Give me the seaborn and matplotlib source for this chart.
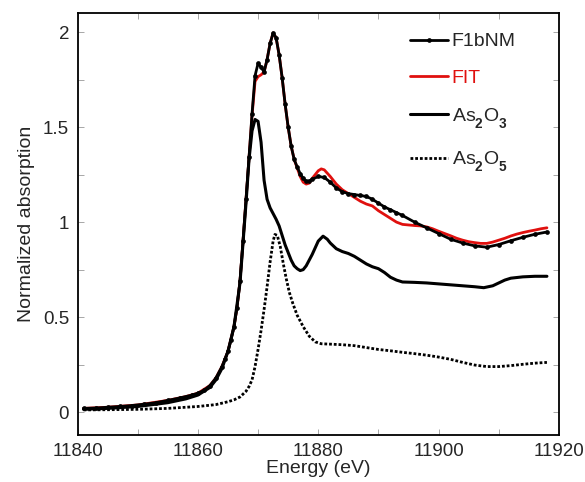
import matplotlib
matplotlib.use("Agg")
import matplotlib.pyplot as plt
import matplotlib._mathtext as mathtext_internal
import seaborn as sns
from matplotlib.ticker import MultipleLocator, FuncFormatter

# F1bNM sample (black line with dots)
e_sample = [11841, 11843, 11845, 11847, 11849, 11851, 11853, 11855, 11857, 11859,
            11860, 11861, 11862, 11863, 11864, 11864.5, 11865, 11865.5, 11866, 11866.5,
            11867, 11867.5, 11868, 11868.5, 11869, 11869.5, 11870, 11870.5, 11871, 11871.5,
            11872, 11872.5, 11873, 11873.5, 11874, 11874.5, 11875, 11875.5, 11876, 11876.5,
            11877, 11877.5, 11878, 11878.5, 11879, 11880, 11881, 11882, 11883, 11884,
            11885, 11886, 11887, 11888, 11889, 11890, 11891, 11892, 11893, 11894,
            11896, 11898, 11900, 11902, 11904, 11906, 11908, 11910, 11912, 11914,
            11916, 11918]
mu_sample = [0.02, 0.022, 0.026, 0.03, 0.035, 0.042, 0.05, 0.062, 0.075, 0.09,
             0.10, 0.115, 0.14, 0.18, 0.24, 0.28, 0.32, 0.38, 0.45, 0.55,
             0.69, 0.90, 1.12, 1.34, 1.57, 1.77, 1.835, 1.815, 1.79, 1.855,
             1.94, 1.995, 1.97, 1.88, 1.76, 1.62, 1.50, 1.40, 1.33, 1.29,
             1.255, 1.23, 1.215, 1.215, 1.225, 1.24, 1.235, 1.21, 1.18, 1.16,
             1.15, 1.145, 1.14, 1.135, 1.12, 1.10, 1.08, 1.065, 1.05, 1.035,
             1.00, 0.97, 0.94, 0.91, 0.89, 0.875, 0.868, 0.882, 0.902, 0.92,
             0.936, 0.948]

# linear combination fit (red)
e_fit = [11841, 11845, 11850, 11855, 11858, 11860, 11862, 11863, 11864, 11865,
         11866, 11866.5, 11867, 11867.5, 11868, 11868.5, 11869, 11869.5, 11870, 11870.5,
         11871, 11871.5, 11872, 11872.5, 11873, 11873.5, 11874, 11874.5, 11875, 11875.5,
         11876, 11876.5, 11877, 11877.5, 11878, 11878.5, 11879, 11880, 11880.5, 11881,
         11882, 11883, 11884, 11885, 11886, 11887, 11888, 11889, 11890, 11891,
         11892, 11893, 11894, 11895, 11896, 11897, 11898, 11899, 11900, 11901,
         11902, 11903, 11904, 11905, 11906, 11907, 11908, 11909, 11910, 11911,
         11912, 11913, 11914, 11915, 11916, 11917, 11918]
mu_fit = [0.02, 0.026, 0.038, 0.062, 0.082, 0.10, 0.14, 0.18, 0.24, 0.32,
          0.45, 0.55, 0.69, 0.90, 1.12, 1.34, 1.56, 1.74, 1.765, 1.775,
          1.79, 1.855, 1.94, 1.995, 1.97, 1.88, 1.76, 1.62, 1.50, 1.40,
          1.33, 1.285, 1.24, 1.21, 1.20, 1.205, 1.23, 1.27, 1.28, 1.275,
          1.24, 1.20, 1.17, 1.15, 1.13, 1.11, 1.095, 1.085, 1.06, 1.04,
          1.02, 1.00, 0.988, 0.985, 0.982, 0.98, 0.975, 0.965, 0.952, 0.94,
          0.928, 0.915, 0.905, 0.897, 0.892, 0.888, 0.888, 0.895, 0.905, 0.915,
          0.927, 0.937, 0.945, 0.952, 0.958, 0.965, 0.97]

# As2O3 reference (solid black)
e_as2o3 = [11841, 11845, 11850, 11855, 11858, 11860, 11862, 11863, 11864, 11865,
           11866, 11867, 11868, 11868.5, 11869, 11869.5, 11870, 11870.5, 11871, 11871.5,
           11872, 11872.5, 11873, 11873.5, 11874, 11874.5, 11875, 11875.5, 11876, 11876.5,
           11877, 11877.5, 11878, 11879, 11880, 11880.8, 11881.5, 11882, 11883, 11884,
           11885, 11886, 11887, 11888, 11889, 11890, 11891, 11892, 11893, 11894,
           11896, 11898, 11900, 11902, 11904, 11906, 11907.5, 11909, 11910, 11911,
           11912, 11914, 11916, 11918]
mu_as2o3 = [0.015, 0.02, 0.03, 0.05, 0.07, 0.09, 0.13, 0.17, 0.23, 0.32,
            0.45, 0.68, 1.10, 1.33, 1.48, 1.54, 1.53, 1.42, 1.22, 1.12,
            1.075, 1.045, 1.015, 0.98, 0.93, 0.88, 0.84, 0.80, 0.77, 0.755,
            0.745, 0.75, 0.77, 0.83, 0.90, 0.926, 0.91, 0.89, 0.86, 0.845,
            0.835, 0.82, 0.80, 0.78, 0.765, 0.755, 0.735, 0.71, 0.695, 0.685,
            0.683, 0.68, 0.675, 0.67, 0.665, 0.66, 0.655, 0.665, 0.68, 0.695,
            0.705, 0.712, 0.715, 0.715]

# As2O5 reference (dotted)
e_as2o5 = [11841, 11845, 11850, 11855, 11860, 11863, 11865, 11866, 11867, 11867.5,
           11868, 11868.5, 11869, 11869.5, 11870, 11870.5, 11871, 11871.5, 11872, 11872.5,
           11872.8, 11873.2, 11873.7, 11874.2, 11874.7, 11875.2, 11875.8, 11876.5, 11877.5, 11878.5,
           11879.5, 11880.5, 11882, 11884, 11886, 11888, 11890, 11892, 11894, 11896,
           11898, 11900, 11902, 11904, 11906, 11908, 11910, 11912, 11914, 11916,
           11918]
mu_as2o5 = [0.012, 0.013, 0.015, 0.02, 0.03, 0.04, 0.055, 0.065, 0.08, 0.095,
            0.11, 0.135, 0.17, 0.24, 0.33, 0.43, 0.54, 0.66, 0.79, 0.90,
            0.935, 0.93, 0.87, 0.78, 0.70, 0.63, 0.57, 0.51, 0.45, 0.40,
            0.37, 0.36, 0.358, 0.355, 0.35, 0.34, 0.33, 0.323, 0.315, 0.308,
            0.30, 0.29, 0.278, 0.262, 0.248, 0.24, 0.24, 0.245, 0.252, 0.258,
            0.262]

sns.set_style("ticks")
plt.rcParams['font.family'] = ['Liberation Sans', 'DejaVu Sans']
plt.rcParams['mathtext.fontset'] = 'custom'
plt.rcParams['mathtext.rm'] = 'Liberation Sans'
plt.rcParams['mathtext.it'] = 'Liberation Sans'
plt.rcParams['mathtext.bf'] = 'Liberation Sans:bold'
# drop the subscripts a bit lower, like in the original figure
mathtext_internal.FontConstantsBase.sub1 = 0.75

fig = plt.figure(figsize=(5.85, 4.82), dpi=100)
ax = fig.add_axes([0.1325, 0.0975, 0.823, 0.8755])

red = '#e0100e'
sns.lineplot(x=e_fit, y=mu_fit, ax=ax, color=red, lw=2, sort=False,
             label='FIT', zorder=2)
sns.lineplot(x=e_sample, y=mu_sample, ax=ax, color='black', lw=2, sort=False,
             marker='o', markersize=3.4, markeredgewidth=0, label='F1bNM', zorder=3)
sns.lineplot(x=e_as2o3, y=mu_as2o3, ax=ax, color='black', lw=2.2, sort=False,
             label='As$_\\mathbf{2}$O$_\\mathbf{3}$', zorder=3)
sns.lineplot(x=e_as2o5, y=mu_as2o5, ax=ax, color='black', lw=2, sort=False,
             linestyle=(0, (1, 0.7)), label='As$_\\mathbf{2}$O$_\\mathbf{5}$', zorder=3)

ax.set_xlim(11840, 11920)
ax.set_ylim(-0.12, 2.1)
ax.xaxis.set_major_locator(MultipleLocator(20))
ax.xaxis.set_minor_locator(MultipleLocator(10))
ax.yaxis.set_major_locator(MultipleLocator(0.5))
ax.yaxis.set_minor_locator(MultipleLocator(0.25))
ax.yaxis.set_major_formatter(FuncFormatter(lambda v, p: '{:g}'.format(v)))
ax.tick_params(which='both', direction='in', top=True, right=True,
               labelsize=13.5, length=4, width=0.6, color='#999999', pad=6)
for s in ax.spines.values():
    s.set_linewidth(1.3)
    s.set_color('black')

ax.set_xlabel('Energy (eV)', fontsize=14, labelpad=0)
ax.set_ylabel('Normalized absorption', fontsize=14, labelpad=6)

handles, labels = ax.get_legend_handles_labels()
order = [1, 0, 2, 3]
leg = ax.legend([handles[i] for i in order], [labels[i] for i in order],
                loc='upper left', bbox_to_anchor=(0.69, 0.953), frameon=False,
                borderpad=0, borderaxespad=0,
                fontsize=14, handlelength=1.95, labelspacing=0.98, handletextpad=0.2)
for txt, lab in zip(leg.get_texts(), [labels[i] for i in order]):
    if lab == 'FIT':
        txt.set_color(red)

fig.savefig('out.png', dpi=100)
